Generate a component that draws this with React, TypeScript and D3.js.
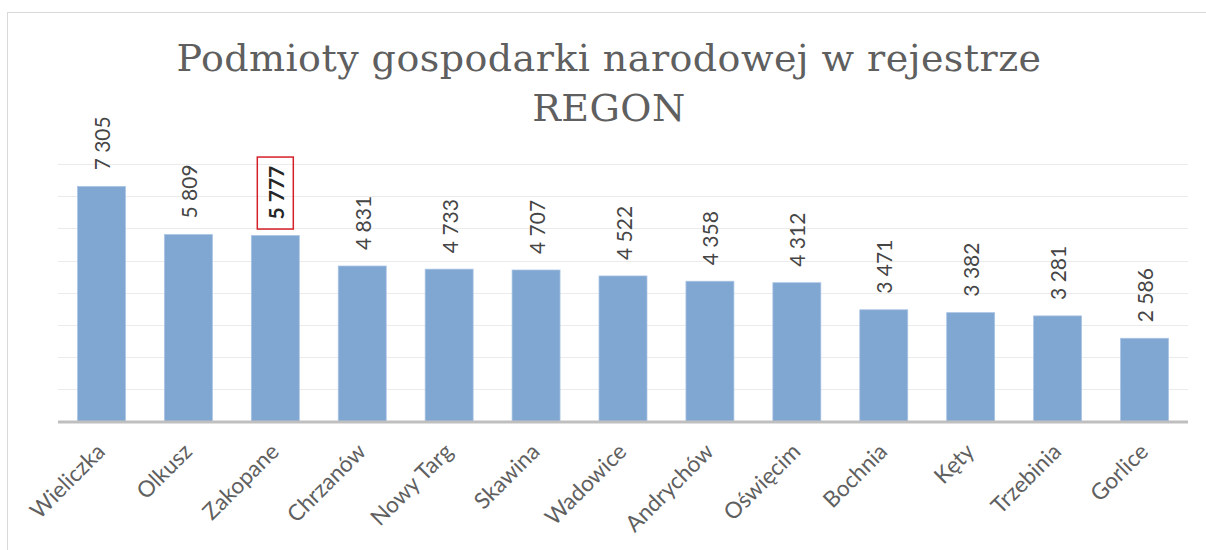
import React from "react";
import * as d3 from "d3";

const titleLines = ["Podmioty gospodarki narodowej w rejestrze", "REGON"];
const categories = [
  "Wieliczka", "Olkusz", "Zakopane", "Chrzanów", "Nowy Targ", "Skawina", "Wadowice",
  "Andrychów", "Oświęcim", "Bochnia", "Kęty", "Trzebinia", "Gorlice",
];
const values = [7305, 5809, 5777, 4831, 4733, 4707, 4522, 4358, 4312, 3471, 3382, 3281, 2586];
const highlighted = "Zakopane";
const yTicks = [1000, 2000, 3000, 4000, 5000, 6000, 7000, 8000];

const W = 1206;
const H = 550;
const plot = { left: 58, right: 1188, top: 164, bottom: 421.5 };

const fmt = d3
  .formatLocale({ decimal: ",", thousands: " ", grouping: [3], currency: ["", " zł"] })
  .format(",d");

export default function App() {
  const x = d3
    .scaleBand<string>()
    .domain(categories)
    .range([plot.left, plot.right])
    .paddingInner(0.448)
    .paddingOuter(0.224);
  const y = d3.scaleLinear().domain([0, 8000]).range([plot.bottom, plot.top]);
  const sans = "Lato, 'Open Sans', sans-serif";

  return (
    <svg
      width={W}
      height={H}
      style={{ position: "absolute", left: 0, top: 0, background: "#fff" }}
    >
      <rect x={7.5} y={12.5} width={1210} height={560} fill="#fff" stroke="#d9d9d9" strokeWidth={1} />
      {titleLines.map((t, i) => (
        <text
          key={i}
          x={609}
          y={71 + i * 50}
          textAnchor="middle"
          fontFamily="'DejaVu Serif', serif"
          fontSize={38}
          letterSpacing={0.45}
          fill="#5f5f5f"
        >
          {t}
        </text>
      ))}
      {yTicks.map((t) => (
        <line
          key={t}
          x1={plot.left}
          x2={plot.right}
          y1={Math.round(y(t)) + 0.5}
          y2={Math.round(y(t)) + 0.5}
          stroke="#ebebeb"
          strokeWidth={1}
        />
      ))}
      {categories.map((c, i) => {
        const v = values[i];
        const bx = x(c)!;
        const bw = x.bandwidth();
        const top = y(v);
        return (
          <rect
            key={c}
            x={bx}
            y={top}
            width={bw}
            height={plot.bottom - top}
            fill="#80a6d2"
            stroke="#a9c4e4"
            strokeWidth={0.75}
          />
        );
      })}
      <line x1={plot.left} x2={plot.right} y1={plot.bottom + 0.5} y2={plot.bottom + 0.5} stroke="#bfbfbf" strokeWidth={3} />
      {categories.map((c, i) => {
        const v = values[i];
        const cx = x(c)! + x.bandwidth() / 2;
        const top = y(v);
        const hl = c === highlighted;
        return (
          <g key={"l" + c}>
            <text
              transform={`translate(${cx},${top - 16}) rotate(-90)`}
              textAnchor="start"
              dominantBaseline="central"
              fontFamily={sans}
              fontSize={21}
              fontWeight={hl ? 700 : 400}
              fill={hl ? "#262626" : "#454545"}
            >
              {fmt(v)}
            </text>
            {hl && (
              <rect
                x={cx - 18}
                y={top - 78.5}
                width={36}
                height={72}
                fill="none"
                stroke="#d42028"
                strokeWidth={1.5}
              />
            )}
          </g>
        );
      })}
      {categories.map((c) => {
        const cx = x(c)! + x.bandwidth() / 2;
        return (
          <text
            key={"c" + c}
            transform={`translate(${cx + 5},${453}) rotate(-45)`}
            textAnchor="end"
            fontFamily={sans}
            fontSize={22.5}
            fill="#606060"
          >
            {c}
          </text>
        );
      })}
    </svg>
  );
}
